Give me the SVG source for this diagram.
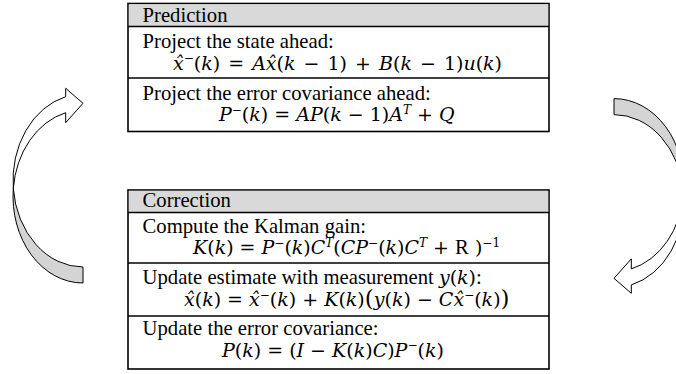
<svg xmlns="http://www.w3.org/2000/svg" xmlns:xlink="http://www.w3.org/1999/xlink" width="676" height="374" viewBox="0 0 676 374">
<style>
.box{fill:#ffffff;stroke:#000;stroke-width:1.6}
.hdr{fill:#d9d9d9;stroke:none}
.sep{stroke:#000;stroke-width:1.4}
.t{font-family:"Liberation Serif","Times New Roman",serif;font-size:20.7px;fill:#000}
.m{font-family:"DejaVu Serif",serif;font-size:19px;fill:#000}
.i{font-style:italic}
.sup{font-size:12px}
.up{font-family:"Liberation Serif",serif;font-size:20.7px}
.big{font-size:23px}
.back{fill:#d4d4d4;stroke:#000;stroke-width:1}
.front{fill:#ffffff;stroke:#000;stroke-width:1}
</style>
<defs>
<g id="curvedArrow">
<path class="back" d="M83,283 A70,86.5 0 0 1 13.3,188.5 A70,86.5 0 0 0 83,267 Z"/>
<path class="front" d="M13.3,188.5 A70,86.5 0 0 1 65.7,96.7 L65.7,88.3 L83,103.3 L65.7,122.7 L65.7,112.7 A70,86.5 0 0 0 13.3,188.5 Z"/>
</g>
</defs>
<g id="prediction">
<rect class="box" x="128" y="3.5" width="421" height="128"/>
<rect class="hdr" x="128.8" y="4.3" width="419.4" height="22.2"/>
<line class="sep" x1="128" y1="26.5" x2="549" y2="26.5"/>
<line class="sep" x1="128" y1="78" x2="549" y2="78"/>
<text class="t" x="142.5" y="22">Prediction</text>
<text class="t" x="142.5" y="48">Project the state ahead:</text>
<text class="m" x="173" y="69.5" word-spacing="2"><tspan class="i">x̂</tspan><tspan class="sup" dy="-7.5">−</tspan><tspan dy="7.5">(</tspan><tspan class="i">k</tspan>) = <tspan class="i">Ax̂</tspan>(<tspan class="i">k</tspan> − 1) + <tspan class="i">B</tspan>(<tspan class="i">k</tspan> − 1)<tspan class="i">u</tspan>(<tspan class="i">k</tspan>)</text>
<text class="t" x="142.5" y="99.5">Project the error covariance ahead:</text>
<text class="m" x="219" y="121"><tspan class="i">P</tspan><tspan class="sup" dy="-7.5">−</tspan><tspan dy="7.5">(</tspan><tspan class="i">k</tspan>) = <tspan class="i">AP</tspan>(<tspan class="i">k</tspan> − 1)<tspan class="i">A</tspan><tspan class="sup i" dy="-7.5">T</tspan><tspan dy="7.5"> + </tspan><tspan class="i">Q</tspan></text>
</g>
<g id="correction">
<rect class="box" x="128" y="190" width="421" height="179"/>
<rect class="hdr" x="128.8" y="190.8" width="419.4" height="21.7"/>
<line class="sep" x1="128" y1="212.5" x2="549" y2="212.5"/>
<line class="sep" x1="128" y1="263" x2="549" y2="263"/>
<line class="sep" x1="128" y1="316" x2="549" y2="316"/>
<text class="t" x="142.5" y="207">Correction</text>
<text class="t" x="142.5" y="232.5">Compute the Kalman gain:</text>
<text class="m" x="193" y="254"><tspan class="i">K</tspan>(<tspan class="i">k</tspan>) = <tspan class="i">P</tspan><tspan class="sup" dy="-7.5">−</tspan><tspan dy="7.5">(</tspan><tspan class="i">k</tspan>)<tspan class="i">C</tspan><tspan class="sup i" dy="-7.5">T</tspan><tspan dy="7.5">(</tspan><tspan class="i">CP</tspan><tspan class="sup" dy="-7.5">−</tspan><tspan dy="7.5">(</tspan><tspan class="i">k</tspan>)<tspan class="i">C</tspan><tspan class="sup i" dy="-7.5">T</tspan><tspan dy="7.5"> + </tspan><tspan class="up">R</tspan> )<tspan class="sup" dy="-7.5">−1</tspan></text>
<text class="t" x="142.5" y="283.5">Update estimate with measurement <tspan class="m"><tspan class="i">y</tspan>(<tspan class="i">k</tspan>)</tspan>:</text>
<text class="m" x="184" y="306"><tspan class="i">x̂</tspan>(<tspan class="i">k</tspan>) = <tspan class="i">x̂</tspan><tspan class="sup" dy="-7.5">−</tspan><tspan dy="7.5">(</tspan><tspan class="i">k</tspan>) + <tspan class="i">K</tspan>(<tspan class="i">k</tspan>)<tspan class="big">(</tspan><tspan class="i">y</tspan>(<tspan class="i">k</tspan>) − <tspan class="i">Cx̂</tspan><tspan class="sup" dy="-7.5">−</tspan><tspan dy="7.5">(</tspan><tspan class="i">k</tspan>)<tspan class="big">)</tspan></text>
<text class="t" x="142.5" y="335">Update the error covariance:</text>
<text class="m" x="222" y="356.5"><tspan class="i">P</tspan>(<tspan class="i">k</tspan>) = (<tspan class="i">I</tspan> − <tspan class="i">K</tspan>(<tspan class="i">k</tspan>)<tspan class="i">C</tspan>)<tspan class="i">P</tspan><tspan class="sup" dy="-7.5">−</tspan><tspan dy="7.5">(</tspan><tspan class="i">k</tspan>)</text>
</g>
<g id="connectors">
<use id="arrow-correction-to-prediction" xlink:href="#curvedArrow"/>
<use id="arrow-prediction-to-correction" xlink:href="#curvedArrow" transform="rotate(180 348.5 190.8)"/>
</g>
</svg>
